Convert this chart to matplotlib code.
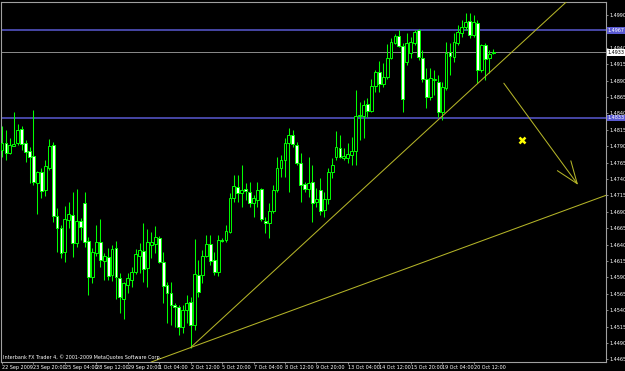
import numpy as np
import matplotlib.pyplot as plt
import matplotlib.transforms as mtrans

plt.rcParams['font.family'] = ['Liberation Sans Narrow', 'DejaVu Sans']

# EURUSD H4 candles
opens = [1.4784, 1.4795, 1.4780, 1.4790, 1.4795, 1.4816, 1.4795, 1.4783, 1.4775, 1.4734,
         1.4751, 1.4723, 1.4757, 1.4792, 1.4684, 1.4665, 1.4629, 1.4678, 1.4685, 1.4643,
         1.4676, 1.4703, 1.4646, 1.4591, 1.4627, 1.4644, 1.4615, 1.4621, 1.4594, 1.4635,
         1.4589, 1.4557, 1.4578, 1.4586, 1.4598, 1.4623, 1.4630, 1.4604, 1.4640, 1.4641,
         1.4650, 1.4614, 1.4578, 1.4566, 1.4548, 1.4545, 1.4514, 1.4540, 1.4553, 1.4518,
         1.4594, 1.4594, 1.4623, 1.4641, 1.4617, 1.4598, 1.4647, 1.4647, 1.4659, 1.4711,
         1.4728, 1.4719, 1.4725, 1.4720, 1.4703, 1.4708, 1.4725, 1.4676, 1.4673, 1.4691,
         1.4723, 1.4757, 1.4769, 1.4795, 1.4807, 1.4792, 1.4764, 1.4732, 1.4725, 1.4735,
         1.4705, 1.4723, 1.4693, 1.4710, 1.4751, 1.4774, 1.4787, 1.4772, 1.4772, 1.4777,
         1.4783, 1.4836, 1.4836, 1.4854, 1.4844, 1.4882, 1.4903, 1.4885, 1.4896, 1.4925,
         1.4947, 1.4958, 1.4943, 1.4918, 1.4932, 1.4947, 1.4967, 1.4925, 1.4892, 1.4865,
         1.4891, 1.4888, 1.4842, 1.4879, 1.4934, 1.4926, 1.4947, 1.4963, 1.4972, 1.4981,
         1.4960, 1.4978, 1.4906, 1.4944, 1.4925, 1.4932]
highs = [1.4821, 1.4815, 1.4803, 1.4842, 1.4824, 1.4821, 1.4800, 1.4789, 1.4845, 1.4752,
         1.4757, 1.4769, 1.4801, 1.4797, 1.4696, 1.4670, 1.4699, 1.4705, 1.4720, 1.4725,
         1.4681, 1.4720, 1.4652, 1.4635, 1.4670, 1.4679, 1.4627, 1.4635, 1.4640, 1.4646,
         1.4597, 1.4583, 1.4597, 1.4606, 1.4633, 1.4643, 1.4673, 1.4664, 1.4659, 1.4668,
         1.4653, 1.4629, 1.4583, 1.4583, 1.4551, 1.4548, 1.4548, 1.4563, 1.4560, 1.4649,
         1.4617, 1.4632, 1.4655, 1.4655, 1.4629, 1.4655, 1.4650, 1.4670, 1.4719, 1.4746,
         1.4746, 1.4761, 1.4734, 1.4735, 1.4716, 1.4735, 1.4726, 1.4682, 1.4703, 1.4731,
         1.4774, 1.4777, 1.4803, 1.4818, 1.4815, 1.4797, 1.4780, 1.4735, 1.4774, 1.4761,
         1.4726, 1.4742, 1.4720, 1.4757, 1.4772, 1.4813, 1.4807, 1.4787, 1.4795, 1.4804,
         1.4876, 1.4857, 1.4860, 1.4863, 1.4892, 1.4906, 1.4920, 1.4917, 1.4946, 1.4955,
         1.4961, 1.4967, 1.4947, 1.4963, 1.4956, 1.4967, 1.4969, 1.4937, 1.4909, 1.4909,
         1.4906, 1.4899, 1.4888, 1.4949, 1.4947, 1.4963, 1.4975, 1.4982, 1.4993, 1.4993,
         1.4990, 1.4982, 1.4946, 1.4947, 1.4937, 1.4938]
lows = [1.4774, 1.4769, 1.4778, 1.4790, 1.4792, 1.4784, 1.4766, 1.4734, 1.4731, 1.4687,
        1.4711, 1.4714, 1.4754, 1.4674, 1.4629, 1.4620, 1.4614, 1.4665, 1.4621, 1.4636,
        1.4647, 1.4636, 1.4563, 1.4582, 1.4623, 1.4606, 1.4586, 1.4586, 1.4585, 1.4557,
        1.4536, 1.4527, 1.4566, 1.4575, 1.4595, 1.4597, 1.4583, 1.4575, 1.4620, 1.4627,
        1.4612, 1.4551, 1.4521, 1.4518, 1.4514, 1.4502, 1.4505, 1.4521, 1.4483, 1.4510,
        1.4560, 1.4582, 1.4621, 1.4609, 1.4594, 1.4592, 1.4644, 1.4644, 1.4658, 1.4705,
        1.4705, 1.4697, 1.4708, 1.4697, 1.4682, 1.4697, 1.4676, 1.4658, 1.4650, 1.4688,
        1.4720, 1.4743, 1.4743, 1.4720, 1.4789, 1.4761, 1.4705, 1.4720, 1.4713, 1.4674,
        1.4697, 1.4685, 1.4682, 1.4702, 1.4742, 1.4769, 1.4772, 1.4769, 1.4764, 1.4761,
        1.4761, 1.4800, 1.4803, 1.4835, 1.4842, 1.4873, 1.4873, 1.4880, 1.4892, 1.4923,
        1.4946, 1.4941, 1.4842, 1.4914, 1.4925, 1.4944, 1.4921, 1.4888, 1.4848, 1.4860,
        1.4868, 1.4835, 1.4830, 1.4876, 1.4899, 1.4918, 1.4944, 1.4956, 1.4967, 1.4955,
        1.4956, 1.4886, 1.4903, 1.4891, 1.4902, 1.4931]
closes = [1.4795, 1.4780, 1.4792, 1.4793, 1.4815, 1.4793, 1.4781, 1.4774, 1.4735, 1.4751,
          1.4722, 1.4760, 1.4790, 1.4684, 1.4665, 1.4627, 1.4679, 1.4687, 1.4643, 1.4676,
          1.4667, 1.4644, 1.4591, 1.4629, 1.4643, 1.4617, 1.4623, 1.4592, 1.4633, 1.4591,
          1.4560, 1.4582, 1.4589, 1.4598, 1.4626, 1.4632, 1.4603, 1.4644, 1.4643, 1.4652,
          1.4614, 1.4577, 1.4566, 1.4548, 1.4545, 1.4514, 1.4540, 1.4551, 1.4518, 1.4595,
          1.4568, 1.4623, 1.4640, 1.4615, 1.4598, 1.4647, 1.4646, 1.4661, 1.4711, 1.4729,
          1.4719, 1.4723, 1.4722, 1.4703, 1.4711, 1.4723, 1.4679, 1.4673, 1.4691, 1.4723,
          1.4757, 1.4769, 1.4795, 1.4807, 1.4793, 1.4764, 1.4731, 1.4725, 1.4734, 1.4703,
          1.4710, 1.4691, 1.4710, 1.4751, 1.4761, 1.4789, 1.4774, 1.4775, 1.4778, 1.4783,
          1.4836, 1.4838, 1.4853, 1.4844, 1.4882, 1.4903, 1.4885, 1.4896, 1.4925, 1.4949,
          1.4958, 1.4943, 1.4862, 1.4947, 1.4949, 1.4964, 1.4926, 1.4892, 1.4865, 1.4894,
          1.4892, 1.4842, 1.4880, 1.4932, 1.4928, 1.4949, 1.4964, 1.4972, 1.4979, 1.4960,
          1.4979, 1.4906, 1.4944, 1.4923, 1.4931, 1.4933]

time_labels = ["22 Sep 2009", "23 Sep 20:00", "25 Sep 04:00", "28 Sep 12:00", "29 Sep 20:00",
               "1 Oct 04:00", "2 Oct 12:00", "5 Oct 20:00", "7 Oct 04:00", "8 Oct 12:00",
               "9 Oct 20:00", "13 Oct 04:00", "14 Oct 12:00", "15 Oct 20:00", "19 Oct 04:00",
               "20 Oct 12:00"]
price_ticks = [1.4465, 1.4490, 1.4515, 1.4540, 1.4565, 1.4590, 1.4615, 1.4640, 1.4665,
               1.4690, 1.4715, 1.4740, 1.4765, 1.4790, 1.4815, 1.4840, 1.4865, 1.4890,
               1.4915, 1.4940, 1.4965, 1.4990]

blue_levels = [1.4967, 1.4833]
bid_price = 1.4933

# objects drawn on the chart (bar index, price)
trend_up = [(48, 1.4483), (111.5, 1.4833)]
trend_low = [(48, 1.4483), (150, 1.4707)]
arrow_from = (127.7, 1.4886)
arrow_to = (146.6, 1.4731)
cross_at = (132.3, 1.4800)

LIME = '#00ff00'
GREY = '#a0a0a0'
BLUE = '#5a5ad2'
OLIVE = '#b4b428'
FS = 3.5

fig = plt.figure(figsize=(6.25, 3.71), dpi=100, facecolor='black')
ax = fig.add_axes([1.5 / 625, 9 / 371, 604.5 / 625, 360.5 / 371])
ax.set_facecolor('black')

o = np.array(opens)
h = np.array(highs)
l = np.array(lows)
c = np.array(closes)
idx = np.arange(len(o))
bull = c >= o

ax.vlines(idx, l, h, color=LIME, lw=0.75, zorder=2)
ax.bar(idx, np.abs(c - o) + 0.00002, bottom=np.minimum(o, c), width=0.72,
       color=np.where(bull, 'black', 'white'), edgecolor=LIME, lw=0.7, zorder=3)

for lv in blue_levels:
    ax.axhline(lv, color=BLUE, lw=1.1, zorder=1)
ax.axhline(bid_price, color='#8c8c8c', lw=0.7, zorder=1)

(x0, y0), (x1, y1) = trend_up
ax.plot([x0, 160], [y0, y0 + (y1 - y0) / (x1 - x0) * (160 - x0)], color=OLIVE, lw=0.75, zorder=4)
ax.axline(trend_low[0], trend_low[1], color=OLIVE, lw=0.75, zorder=4)
ax.annotate('', xy=arrow_to, xytext=arrow_from,
            arrowprops=dict(arrowstyle='->,head_length=1.6,head_width=0.6', color=OLIVE,
                            lw=0.75, shrinkA=0, shrinkB=0), zorder=4)
ax.plot(*cross_at, marker='x', color='#ffff00', ms=5, mew=1.8, zorder=5)

ax.set_xlim(-0.127, 153.7)
ax.set_ylim(1.44610, 1.50106)

for s in ax.spines.values():
    s.set_color(GREY)
    s.set_linewidth(0.8)

ax.set_xticks(idx[::8][:len(time_labels)])
ax.set_xticklabels(time_labels, ha='left')
ax.yaxis.tick_right()
ax.set_yticks(price_ticks)
# the 1.4965 label sits under the 1.4967 level box, as in the terminal
ax.set_yticklabels(["" if abs(p - blue_levels[0]) < 0.0004 else f"{p:.4f}" for p in price_ticks])
ax.tick_params(axis='both', colors=GREY, labelcolor='white', labelsize=FS, length=1.6, width=0.6)
ax.tick_params(axis='x', pad=0.6)
ax.tick_params(axis='y', pad=0.6)

tr = mtrans.blended_transform_factory(ax.transAxes, ax.transData)
for lv, fc, tc in [(blue_levels[0], BLUE, 'white'), (blue_levels[1], BLUE, 'white'),
                   (bid_price, 'white', 'black')]:
    ax.text(1.003, lv, f"{lv:.4f}", transform=tr, fontsize=FS, color=tc, va='center',
            ha='left', clip_on=False, zorder=6,
            bbox=dict(boxstyle='square,pad=0.2', fc=fc, ec='none'))

fig.text(3 / 625, 1 - 357 / 371, "Interbank FX Trader 4, \u00a9 2001-2009 MetaQuotes Software Corp.",
         color='white', fontsize=FS, va='center', ha='left')

fig.savefig('out.png', dpi=100, facecolor='black')
